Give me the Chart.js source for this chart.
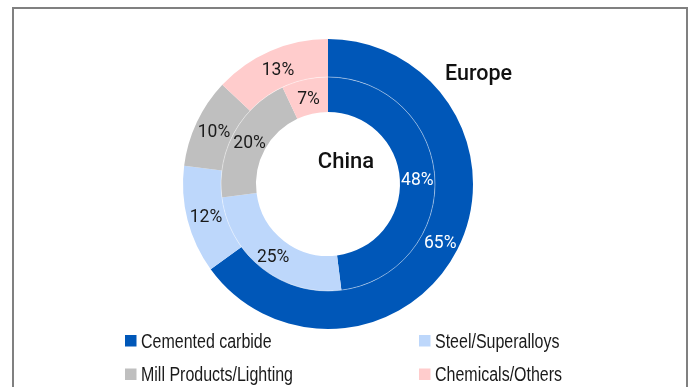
<!DOCTYPE html>
<html>
<head>
<meta charset="utf-8">
<script src="https://cdn.jsdelivr.net/npm/chart.js@4/dist/chart.umd.min.js"></script>
<style>
  html, body { margin: 0; padding: 0; background: #fff; }
  #wrap { position: relative; width: 698px; height: 387px; overflow: hidden; }
  #frame { position: absolute; left: 12px; top: 7px; width: 676px; height: 400px;
           border: 2px solid #808080; box-sizing: border-box; }
  canvas { position: absolute; left: 0; top: 0; }
</style>
</head>
<body>
<div id="wrap">
  <div id="frame"></div>
  <canvas id="c" width="698" height="387"></canvas>
</div>
<script>
// Demand split by end use, percent
const categories = ['Cemented carbide', 'Steel/Superalloys', 'Mill Products/Lighting', 'Chemicals/Others'];
const europeShares = [65, 12, 10, 13];
const chinaShares = [48, 25, 20, 7];
const ringNames = ['Europe', 'China'];
const colors = ['#0057B8', '#BDD7FB', '#BFBFBF', '#FFCCCC'];
const labelColors = ['#ffffff', '#1a1a1a', '#1a1a1a', '#1a1a1a'];

// thin white seam between the two rings
const ringSeam = {
  id: 'ringSeam',
  afterDatasetsDraw(chart) {
    const arc = chart.getDatasetMeta(1).data[0];
    if (!arc) return;
    const ctx = chart.ctx;
    ctx.save();
    ctx.strokeStyle = 'rgba(255,255,255,0.6)';
    ctx.lineWidth = 0.7;
    ctx.beginPath();
    ctx.arc(arc.x, arc.y, arc.outerRadius, 0, Math.PI * 2);
    ctx.stroke();
    ctx.restore();
  }
};

// percentage labels at each arc centroid
const arcLabels = {
  id: 'arcLabels',
  afterDatasetsDraw(chart) {
    const ctx = chart.ctx;
    ctx.save();
    ctx.font = '17.5px Roboto, "Liberation Sans", sans-serif';
    ctx.textAlign = 'center';
    ctx.textBaseline = 'middle';
    chart.data.datasets.forEach((ds, di) => {
      chart.getDatasetMeta(di).data.forEach((arc, i) => {
        const p = arc.tooltipPosition();
        ctx.fillStyle = labelColors[i];
        ctx.fillText(ds.data[i] + '%', p.x, p.y + 2.5);
      });
    });
    ctx.restore();
  }
};

// ring titles and the two-column legend
const annotations = {
  id: 'annotations',
  afterDraw(chart) {
    const ctx = chart.ctx;
    ctx.save();
    ctx.fillStyle = '#111';
    ctx.textBaseline = 'alphabetic';
    ctx.textAlign = 'left';
    ctx.font = '500 21.5px Roboto, sans-serif';
    ctx.fillText(ringNames[0], 445, 79.5);
    ctx.font = '500 22px Roboto, sans-serif';
    ctx.textAlign = 'center';
    ctx.fillText(ringNames[1], 346, 167.5);

    const colX = [125, 419];
    const rowY = [335, 368.5];
    ctx.textAlign = 'left';
    ctx.font = '19.5px "Liberation Sans", Arial, sans-serif';
    categories.forEach((name, i) => {
      const x = colX[i % 2];
      const y = rowY[Math.floor(i / 2)];
      ctx.fillStyle = colors[i];
      ctx.fillRect(x, y, 11.5, 11.5);
      ctx.fillStyle = '#1a1a1a';
      // narrow lettering
      ctx.save();
      ctx.translate(x + 16, y + 12.5);
      ctx.scale(0.82, 1);
      ctx.fillText(name, 0, 0);
      ctx.restore();
    });
    ctx.restore();
  }
};

new Chart(document.getElementById('c'), {
  type: 'doughnut',
  data: {
    labels: categories,
    datasets: [
      { label: ringNames[0], data: europeShares, backgroundColor: colors, weight: 38 },
      { label: ringNames[1], data: chinaShares, backgroundColor: colors, weight: 35 }
    ]
  },
  options: {
    responsive: false,
    animation: false,
    radius: 145,
    cutout: 72,
    borderWidth: 0,
    hoverOffset: 0,
    layout: { padding: { left: 183, right: 225, top: 39, bottom: 58 } },
    plugins: { legend: { display: false }, tooltip: { enabled: false } },
    events: []
  },
  plugins: [ringSeam, arcLabels, annotations]
});
</script>
</body>
</html>
